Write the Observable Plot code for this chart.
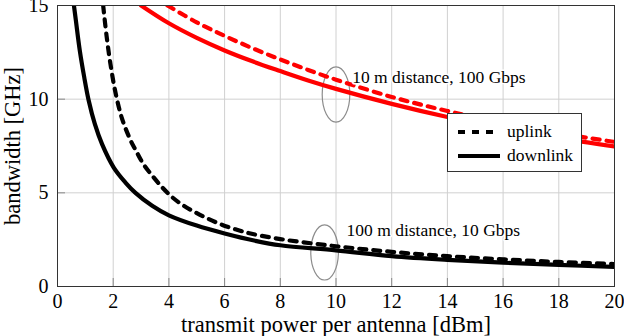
<!DOCTYPE html>
<html>
<head>
<meta charset="utf-8">
<script src="https://cdn.jsdelivr.net/npm/d3@7"></script>
<script src="https://cdn.jsdelivr.net/npm/@observablehq/plot@0.6"></script>
<style>
  body { margin: 0; background: #fff; }
  #wrap { position: relative; width: 624px; height: 336px; font-family: "Liberation Serif", "Tinos", "DejaVu Serif", "Noto Serif", serif; }
  #legend { position: absolute; left: 447px; top: 113px; width: 135px; height: 59px; border: 1px solid #333; background: #fff; box-sizing: border-box; font-size: 17.5px; }
  .row { position: absolute; left: 0; height: 20px; width: 130px; }
  .row svg { position: absolute; left: 9px; top: 0; }
  .row span { position: absolute; left: 59px; top: -1px; line-height: 20px; }
</style>
</head>
<body>
<div id="wrap"></div>
<script>
// ---- data ----
const xTicks = [0, 2, 4, 6, 8, 10, 12, 14, 16, 18, 20];
const yTicks = [0, 5, 10, 15];

// 100 m distance, 10 Gbps (black)
const downlink100X = [0.59, 0.66, 0.8, 0.96, 1.12, 1.34, 1.6, 2.02, 2.44, 2.8, 3.4, 4, 5, 6, 7.1, 8, 10, 12, 14, 16, 18, 20];
const downlink100Y = [15, 14.2, 12.6, 11.17, 9.93, 8.68, 7.6, 6.35, 5.55, 5.0, 4.31, 3.8, 3.25, 2.83, 2.44, 2.2, 1.93, 1.62, 1.42, 1.27, 1.15, 1.05];
const uplink100X = [1.64, 1.76, 1.9, 2.08, 2.32, 2.64, 2.8, 3.07, 3.4, 3.76, 4.1, 4.53, 4.96, 5.43, 5.9, 6.4, 6.93, 8, 10, 12, 14, 16, 18, 20];
const uplink100Y = [15, 13.4, 11.89, 10.37, 8.95, 7.75, 7.3, 6.57, 5.92, 5.29, 4.79, 4.31, 3.95, 3.6, 3.3, 3.05, 2.83, 2.53, 2.15, 1.85, 1.62, 1.45, 1.31, 1.2];

// 10 m distance, 100 Gbps (red)
const downlink10X = [3, 4, 5, 6, 7, 8, 9, 10, 12, 14, 16, 18, 20];
const downlink10Y = [15, 14.05, 13.27, 12.6, 12.02, 11.5, 11.0, 10.55, 9.75, 9.05, 8.45, 7.93, 7.47];
const uplink10X = [3.95, 5, 6, 7, 8, 9, 10, 12, 14, 16, 18, 20];
const uplink10Y = [15, 14.1, 13.38, 12.72, 12.12, 11.56, 11.04, 10.12, 9.37, 8.73, 8.18, 7.72];

// annotations
const annoX = [10.58, 10.38];
const annoY = [11.15, 2.98];
const annoText = ["10 m distance, 100 Gbps", "100 m distance, 10 Gbps"];
const ellipseX = [10.0, 9.59];
const ellipseY = [10.25, 1.82];

const xLabel = "transmit power per antenna [dBm]";
const yLabel = "bandwidth [GHz]";
const legendLabels = ["uplink", "downlink"];

// ---- build tables ----
const toRows = (xs, ys) => xs.map((x, i) => ({x, y: ys[i]}));
const series = [
  {rows: toRows(uplink10X, uplink10Y), color: "#ff0000", dash: "7,7"},
  {rows: toRows(downlink10X, downlink10Y), color: "#ff0000", dash: null},
  {rows: toRows(uplink100X, uplink100Y), color: "#000000", dash: "7,7"},
  {rows: toRows(downlink100X, downlink100Y), color: "#000000", dash: null}
];
const annos = annoX.map((x, i) => ({x, y: annoY[i], text: annoText[i]}));
const ellipses = ellipseX.map((x, i) => ({x, y: ellipseY[i]}));

// ellipse symbol (width half of height)
const ellipseSymbol = {
  draw(ctx, size) {
    const r = Math.sqrt(size / Math.PI);
    const rx = 0.5 * r, ry = r, k = 0.5523;
    ctx.moveTo(rx, 0);
    ctx.bezierCurveTo(rx, k * ry, k * rx, ry, 0, ry);
    ctx.bezierCurveTo(-k * rx, ry, -rx, k * ry, -rx, 0);
    ctx.bezierCurveTo(-rx, -k * ry, -k * rx, -ry, 0, -ry);
    ctx.bezierCurveTo(k * rx, -ry, rx, -k * ry, rx, 0);
    ctx.closePath();
  }
};

const font = '"Liberation Serif", "Tinos", "DejaVu Serif", "Noto Serif", serif';

const chart = Plot.plot({
  width: 624,
  height: 336,
  marginLeft: 57,
  marginRight: 10,
  marginTop: 5,
  marginBottom: 50,
  x: {domain: [0, 20]},
  y: {domain: [0, 15]},
  style: {fontFamily: font, background: "white", color: "#000"},
  marks: [
    Plot.gridX(xTicks, {stroke: "#d0d0d0", strokeOpacity: 1}),
    Plot.gridY(yTicks, {stroke: "#d0d0d0", strokeOpacity: 1}),
    Plot.axisX(xTicks, {tickSize: -8, tickFormat: () => "", stroke: "#888", label: null}),
    Plot.axisY(yTicks, {tickSize: -8, tickFormat: () => "", stroke: "#888", label: null}),
    Plot.axisX(xTicks, {tickSize: 0, tickPadding: 7, fontSize: 20, label: null, tickFormat: d => String(d)}),
    Plot.axisY(yTicks, {tickSize: 0, tickPadding: 9, fontSize: 20, label: null, tickFormat: d => String(d)}),
    Plot.text([xLabel], {frameAnchor: "bottom", lineAnchor: "middle", textAnchor: "middle", dy: 38, fontSize: 22.5}),
    Plot.text([yLabel], {frameAnchor: "left", lineAnchor: "middle", textAnchor: "middle", dx: -45, rotate: -90, fontSize: 22.5}),
    Plot.dot(ellipses, {x: "x", y: "y", r: 27.6, symbol: ellipseSymbol, stroke: "#8c8c8c", strokeWidth: 1.2, fill: "none"}),
    ...series.map(s => Plot.line(s.rows, {
      x: "x", y: "y", stroke: s.color, strokeWidth: 4.2,
      strokeDasharray: s.dash || undefined, curve: "catmull-rom", clip: true
    })),
    Plot.text(annos, {x: "x", y: "y", text: "text", textAnchor: "start", fontSize: 17.5, stroke: "white", strokeWidth: 3, fill: "black"}),
    Plot.frame({stroke: "#333", strokeWidth: 1})
  ]
});

const wrap = document.getElementById("wrap");
wrap.appendChild(chart);

// legend
const legend = document.createElement("div");
legend.id = "legend";
const dashes = ["7,7", null];
legendLabels.forEach((lab, i) => {
  const row = document.createElement("div");
  row.className = "row";
  row.style.top = (8 + i * 24) + "px";
  row.innerHTML = `<svg width="44" height="20"><line x1="1" x2="43" y1="10" y2="10" stroke="#000" stroke-width="4" ${dashes[i] ? `stroke-dasharray="${dashes[i]}"` : ""}/></svg><span>${lab}</span>`;
  legend.appendChild(row);
});
wrap.appendChild(legend);
</script>
</body>
</html>
